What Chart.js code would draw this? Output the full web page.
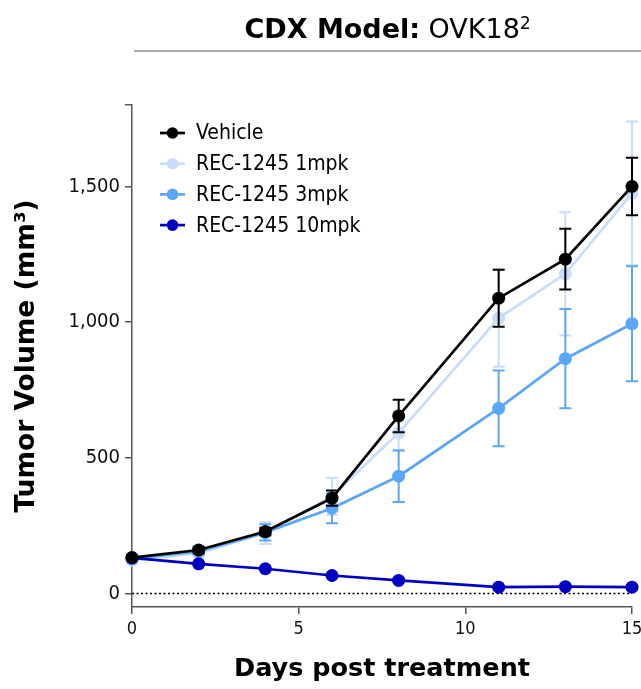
<!DOCTYPE html>
<html><head><meta charset="utf-8">
<script src="https://cdn.jsdelivr.net/npm/chart.js@4"></script>
<style>
html,body{margin:0;padding:0;background:#fff;}
#wrap{position:relative;width:641px;height:689px;}
#title{position:absolute;left:134px;right:0;top:0;height:37px;padding-top:13px;line-height:31px;border-bottom:2px solid #aaaaaa;text-align:center;font-family:"DejaVu Sans";font-size:27px;color:#000;white-space:nowrap;}
#title b{font-weight:bold;}
#title sup{font-size:62%;vertical-align:0.55em;line-height:0;}
canvas{position:absolute;left:0;top:0;}
</style></head>
<body><div id="wrap"><canvas id="c" width="641" height="689"></canvas><div id="title"><b>CDX Model:</b><span> OVK18<sup>2</sup></span></div></div>
<script>
// ---- data ----
const days = [0, 2, 4, 6, 8, 11, 13, 15];
const seriesNames = ['Vehicle', 'REC-1245 1mpk', 'REC-1245 3mpk', 'REC-1245 10mpk'];
const vehicle     = [132, 160, 228, 351, 654, 1088, 1232, 1500];
const vehicleErr  = [8, 12, 14, 28, 60, 105, 112, 106];
const mpk1        = [122, 148, 222, 358, 592, 1015, 1178, 1474];
const mpk1Err     = [8, 12, 40, 68, 64, 180, 227, 265];
const mpk3        = [128, 155, 225, 314, 432, 682, 865, 994];
const mpk3Err     = [8, 10, 30, 55, 95, 140, 183, 212];
const mpk10       = [131, 109, 91, 66, 48, 23, 25, 23];
const mpk10Err    = [5, 5, 5, 5, 5, 4, 4, 4];
const xTicks = [0, 5, 10, 15];
const xTickLabels = ['0', '5', '10', '15'];
const yTicks = [0, 500, 1000, 1500, 1800];
const yTickLabels = ['0', '500', '1,000', '1,500', ''];
const xTitle = 'Days post treatment';
const yTitle = 'Tumor Volume (mm³)';

// ---- styling ----
const colors = ['#000000', '#c8ddf8', '#5ba7f7', '#0000c2'];
const orders = [1, 4, 3, 2];
const values = [vehicle, mpk1, mpk3, mpk10];
const errs = [vehicleErr, mpk1Err, mpk3Err, mpk10Err];

function pts(vals) { return days.map((d, i) => ({x: d, y: vals[i]})); }

const datasets = seriesNames.map((name, i) => ({
  label: name,
  data: pts(values[i]),
  errors: errs[i],
  borderColor: colors[i],
  backgroundColor: colors[i],
  pointBackgroundColor: colors[i],
  pointBorderWidth: 0,
  pointRadius: 6.5,
  borderWidth: 2.7,
  tension: 0,
  order: orders[i],
  clip: false
}));
datasets.push({
  label: 'zero',
  data: [{x: days[0], y: 0}, {x: days[days.length - 1], y: 0}],
  borderColor: '#000',
  borderWidth: 1.5,
  borderDash: [2, 2.5],
  pointRadius: 0,
  order: 9,
  clip: false,
  isRef: true
});

const errorBars = {
  id: 'errorBars',
  beforeDatasetDraw(chart, args) {
    const ds = chart.data.datasets[args.index];
    if (!ds.errors) return;
    const ys = chart.scales.y, ctx = chart.ctx;
    ctx.save();
    ctx.strokeStyle = ds.borderColor;
    ctx.lineWidth = 2;
    args.meta.data.forEach((p, i) => {
      const v = ds.data[i].y, e = ds.errors[i];
      const yt = ys.getPixelForValue(v + e), yb = ys.getPixelForValue(v - e);
      ctx.beginPath();
      ctx.moveTo(p.x, yt); ctx.lineTo(p.x, yb);
      ctx.moveTo(p.x - 6, yt); ctx.lineTo(p.x + 6, yt);
      ctx.moveTo(p.x - 6, yb); ctx.lineTo(p.x + 6, yb);
      ctx.stroke();
    });
    ctx.restore();
  }
};

const legendPlugin = {
  id: 'innerLegend',
  afterDraw(chart) {
    const ctx = chart.ctx, a = chart.chartArea;
    ctx.save();
    seriesNames.forEach((name, i) => {
      const y = a.top + 28 + i * 30.7;
      const x0 = a.left + 28;
      ctx.strokeStyle = colors[i];
      ctx.fillStyle = colors[i];
      ctx.lineWidth = 2.7;
      ctx.beginPath(); ctx.moveTo(x0, y); ctx.lineTo(x0 + 25, y); ctx.stroke();
      ctx.beginPath(); ctx.arc(x0 + 12.5, y, 5.8, 0, Math.PI * 2); ctx.fill();
      ctx.fillStyle = '#000';
      ctx.font = '21px "DejaVu Sans Condensed", "DejaVu Sans"';
      ctx.textBaseline = 'middle';
      ctx.textAlign = 'left';
      ctx.fillText(name, x0 + 36, y + 1);
    });
    ctx.restore();
  }
};

new Chart(document.getElementById('c'), {
  type: 'line',
  data: {datasets},
  options: {
    responsive: false,
    animation: false,
    layout: {padding: {top: 105, right: 9, left: 0, bottom: 0}},
    plugins: {legend: {display: false}, tooltip: {enabled: false}},
    scales: {
      x: {
        type: 'linear', min: 0, max: 15,
        afterBuildTicks: s => { s.ticks = xTicks.map(v => ({value: v})); },
        afterFit: s => { s.height = 82; s.paddingLeft = 0; s.paddingRight = 0; },
        grid: {drawOnChartArea: false, drawTicks: true, tickLength: 7, color: '#555', lineWidth: 1.5},
        border: {color: '#555', width: 1.5},
        ticks: {
          callback: v => xTickLabels[xTicks.indexOf(v)],
          font: {family: '"DejaVu Sans Condensed", "DejaVu Sans"', size: 18},
          color: '#111', padding: 5, maxRotation: 0, autoSkip: false
        },
        title: {display: true, text: xTitle, color: '#000',
          font: {family: '"DejaVu Sans"', weight: 'bold', size: 25.5},
          padding: {top: 0, bottom: 4}}
      },
      y: {
        type: 'linear', min: -50, max: 1800,
        afterBuildTicks: s => { s.ticks = yTicks.map(v => ({value: v})); },
        afterFit: s => { s.width = 132; s.paddingTop = 0; s.paddingBottom = 0; },
        grid: {drawOnChartArea: false, drawTicks: true, tickLength: 7, color: '#555', lineWidth: 1.5},
        border: {color: '#555', width: 1.5},
        ticks: {
          callback: v => yTickLabels[yTicks.indexOf(v)],
          font: {family: '"DejaVu Sans Condensed", "DejaVu Sans"', size: 20},
          color: '#111', padding: 5, autoSkip: false
        },
        title: {display: true, text: yTitle, color: '#000',
          font: {family: '"DejaVu Sans"', weight: 'bold', size: 26.5},
          padding: {top: 11, bottom: 0}}
      }
    }
  },
  plugins: [errorBars, legendPlugin]
});
</script>
</body></html>
